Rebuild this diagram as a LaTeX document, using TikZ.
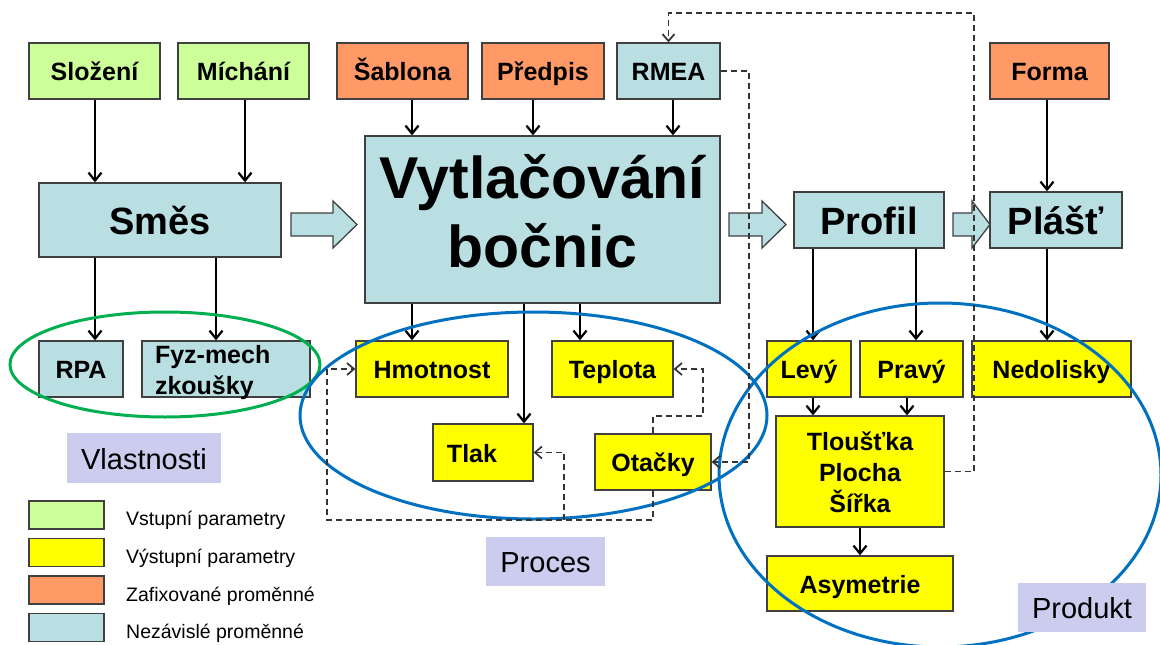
\documentclass[tikz,border=0pt]{standalone}
\usepackage{fontspec}
\setmainfont{Liberation Sans}
\usetikzlibrary{arrows.meta}
\definecolor{cgreen}{HTML}{CCFF99}
\definecolor{corange}{HTML}{FF9966}
\definecolor{cblue}{HTML}{B9DFE2}
\definecolor{cyellow}{HTML}{FFFF00}
\definecolor{clav}{HTML}{CCCCEE}
\definecolor{cellg}{HTML}{00B050}
\definecolor{cellb}{HTML}{0070C0}
\definecolor{cedge}{HTML}{404040}
\begin{document}
\begin{tikzpicture}[x=1pt,y=-1pt,
  boxbase/.style={draw=cedge, line width=1.3pt, inner sep=0pt, align=center},
  lbl/.style={boxbase, font=\bfseries\fontsize{25}{31}\selectfont, text height=20.5pt, text depth=1.2pt},
  big/.style={boxbase, font=\bfseries\fontsize{38}{45}\selectfont, text height=31.2pt, text depth=1.9pt},
  grp/.style={fill=clav, inner sep=0pt, font=\fontsize{29}{35}\selectfont, text height=23.8pt, text depth=1.5pt},
  legbox/.style={draw=cedge, line width=1.3pt, minimum width=75pt, minimum height=28pt, inner sep=0pt},
  legtxt/.style={anchor=base west, inner sep=0pt, font=\fontsize{19.5}{23}\selectfont},
  arr/.style={line width=2.2pt, -{Straight Barb[length=8pt,width=13pt]}},
  darr/.style={line width=1.7pt, draw=black!80, dash pattern=on 6pt off 4pt, -{Straight Barb[length=7pt,width=12pt]}},
  blockarr/.style={draw=cedge, line width=1.3pt, fill=cblue},
  ell/.style={line width=3pt}
]
\useasboundingbox (0,0) rectangle (1160,645);
\fill[white] (0,0) rectangle (1160,645);
\clip (0,0) rectangle (1160,645);

% top row
\node[lbl, fill=cgreen, minimum width=131pt, minimum height=56pt] (slozeni) at (94.5,71) {Složení};
\node[lbl, fill=cgreen, minimum width=131pt, minimum height=56pt] (michani) at (243.5,71) {Míchání};
\node[lbl, fill=corange, minimum width=131pt, minimum height=56pt] (sablona) at (402.5,71) {Šablona};
\node[lbl, fill=corange, minimum width=122pt, minimum height=56pt] (predpis) at (543,71) {Předpis};
\node[lbl, fill=cblue, minimum width=103pt, minimum height=56pt] (rmea) at (668.5,71) {RMEA};
\node[lbl, fill=corange, minimum width=119pt, minimum height=56pt] (forma) at (1049.5,71) {Forma};

% main row
\node[big, fill=cblue, minimum width=242pt, minimum height=74pt] (smes) at (160,220) {Směs};
\node[boxbase, fill=cblue, minimum width=355pt, minimum height=167pt, font=\bfseries\fontsize{59}{69}\selectfont] (vytl) at (542.5,219.5)
  {\raisebox{0pt}[50pt][93pt]{\begin{tabular}[t]{@{}c@{}}Vytlačování\\bočnic\end{tabular}}};
\node[big, fill=cblue, minimum width=150pt, minimum height=56pt] (profil) at (869,220) {Profil};
\node[big, fill=cblue, minimum width=132pt, minimum height=56pt] (plast) at (1056,220) {Plášť};

% block arrows
\draw[blockarr] (291,213) -- (333,213) -- (333,201) -- (357,224.5) -- (333,248) -- (333,236) -- (291,236) -- cycle;
\draw[blockarr] (729,213) -- (762,213) -- (762,201) -- (786,224.5) -- (762,248) -- (762,236) -- (729,236) -- cycle;
\draw[blockarr] (953,213) -- (972,213) -- (972,201) -- (990,224.5) -- (972,248) -- (972,236) -- (953,236) -- cycle;

% second row
\node[lbl, fill=cblue, minimum width=84pt, minimum height=56pt] (rpa) at (81,369) {RPA};
\node[boxbase, fill=cblue, minimum width=168pt, minimum height=56pt, font=\bfseries\fontsize{25}{31}\selectfont] (fyz) at (226,369)
  {\raisebox{0pt}[20pt][32pt]{\makebox[142pt][l]{\begin{tabular}[t]{@{}l@{}}Fyz-mech\\zkoušky\end{tabular}}}};
\node[lbl, fill=cyellow, minimum width=152pt, minimum height=56pt] (hmot) at (432,369) {Hmotnost};
\node[lbl, fill=cyellow, minimum width=121pt, minimum height=56pt] (tepl) at (612.5,369) {Teplota};
\node[lbl, fill=cyellow, minimum width=100pt, minimum height=57pt] (tlak) at (483,452.5) {Tlak\hspace*{22pt}};
\node[lbl, fill=cyellow, minimum width=116pt, minimum height=56pt] (otacky) at (653,462) {Otačky};
\node[lbl, fill=cyellow, minimum width=84pt, minimum height=56pt] (levy) at (809,369) {Levý};
\node[lbl, fill=cyellow, minimum width=103pt, minimum height=56pt] (pravy) at (911.5,369) {Pravý};
\node[lbl, fill=cyellow, minimum width=159pt, minimum height=56pt] (nedol) at (1051.5,369) {Nedolisky};
\node[boxbase, fill=cyellow, minimum width=168pt, minimum height=111pt, font=\bfseries\fontsize{25}{31}\selectfont] (tlou) at (860,471.5)
  {\raisebox{0pt}[22pt][65pt]{\begin{tabular}[t]{@{}c@{}}Tloušťka\\Plocha\\Šířka\end{tabular}}};
\node[lbl, fill=cyellow, minimum width=186pt, minimum height=55pt] (asym) at (860,583.5) {Asymetrie};

% legend
\node[legbox, fill=cgreen] (lg1) at (66.5,515) {};
\node[legbox, fill=cyellow] (lg2) at (66.5,552.5) {};
\node[legbox, fill=corange] (lg3) at (66.5,590) {};
\node[legbox, fill=cblue] (lg4) at (66.5,627.5) {};
\node[legtxt] (lt1) at (126,525.5) {Vstupní parametry};
\node[legtxt] (lt2) at (126,563.5) {Výstupní parametry};
\node[legtxt] (lt3) at (126,601) {Zafixované proměnné};
\node[legtxt] (lt4) at (126,638) {Nezávislé proměnné};

% solid connectors
\coordinate (x95) at (95,0);
\coordinate (x245) at (245,0);
\coordinate (x216) at (216,0);
\coordinate (x412) at (412,0);
\coordinate (x533) at (533,0);
\coordinate (x673) at (673,0);
\coordinate (x524) at (524,0);
\coordinate (x580) at (580,0);
\coordinate (x1047) at (1047,0);
\coordinate (x813) at (813,0);
\coordinate (x916) at (916,0);
\coordinate (x907) at (907,0);
\coordinate (x860) at (860,0);
\draw[arr] (slozeni.south -| x95) -- (smes.north -| x95);
\draw[arr] (michani.south -| x245) -- (smes.north -| x245);
\draw[arr] (smes.south -| x95) -- (rpa.north -| x95);
\draw[arr] (smes.south -| x216) -- (fyz.north -| x216);
\draw[arr] (sablona.south -| x412) -- (vytl.north -| x412);
\draw[arr] (predpis.south -| x533) -- (vytl.north -| x533);
\draw[arr] (rmea.south -| x673) -- (vytl.north -| x673);
\draw[arr] (vytl.south -| x412) -- (hmot.north -| x412);
\draw[arr] (vytl.south -| x524) -- (tlak.north -| x524);
\draw[arr] (vytl.south -| x580) -- (tepl.north -| x580);
\draw[arr] (forma.south -| x1047) -- (plast.north -| x1047);
\draw[arr] (profil.south -| x813) -- (levy.north -| x813);
\draw[arr] (profil.south -| x916) -- (pravy.north -| x916);
\draw[arr] (plast.south -| x1047) -- (nedol.north -| x1047);
\draw[arr] (levy.south -| x813) -- (tlou.north -| x813);
\draw[arr] (pravy.south -| x907) -- (tlou.north -| x907);
\draw[arr] (tlou.south -| x860) -- (asym.north -| x860);

% ellipses
\draw[ell, cellg] (165,364.5) ellipse [x radius=155pt, y radius=52.5pt];
\draw[ell, cellb] (533.5,415.5) ellipse [x radius=233.5pt, y radius=103.5pt];
\draw[ell, cellb] (940,475) ellipse [x radius=221pt, y radius=172pt];

% dashed feedback connectors
\coordinate (fbtop) at (974,13);
\coordinate (rmeadown) at (749,300);
\coordinate (otup) at (703,416);
\coordinate (otdown) at (327,520);
\coordinate (tlakfb) at (564,520);
\draw[darr] (tlou.east) -| (fbtop) -| (rmea.north);
\draw[darr] (rmea.east) -| (rmeadown) |- (otacky.east);
\draw[darr] (otacky.north) |- (otup) |- (tepl.east);
\draw[darr] (otacky.south) |- (otdown) |- (hmot.west);
\draw[darr] (tlakfb) |- (tlak.east);

% group labels
\node[grp, minimum width=154pt, minimum height=50pt] (vlast) at (144,458) {Vlastnosti};
\node[grp, minimum width=119pt, minimum height=49pt] (proces) at (545.5,561.5) {Proces};
\node[grp, minimum width=128pt, minimum height=49pt] (produkt) at (1082,607.5) {Produkt};
\end{tikzpicture}
\end{document}
